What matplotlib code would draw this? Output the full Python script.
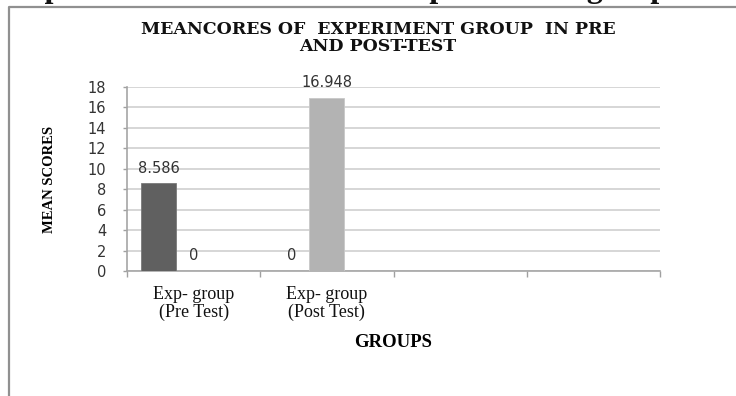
import matplotlib
matplotlib.use("Agg")
import matplotlib.pyplot as plt
from matplotlib.lines import Line2D
import numpy as np

# ---- data ----
categories = ["Exp- group\n(Pre Test)", "Exp- group\n(Post Test)", "", ""]
pre_test = [8.586, 0, None, None]
post_test = [0, 16.948, None, None]
pre_labels = ["8.586", "0"]
post_labels = ["0", "16.948"]
yticks = [0, 2, 4, 6, 8, 10, 12, 14, 16, 18]

title = "MEANCORES OF  EXPERIMENT GROUP  IN PRE\nAND POST-TEST"
top_caption = "Comparison of mean scores of experimental group"

W, H, DPI = 736, 396, 100
fig = plt.figure(figsize=(W / DPI, H / DPI), dpi=DPI)
fig.patch.set_facecolor("white")

ax = fig.add_axes([127 / W, 1 - 271 / H, (660 - 127) / W, (271 - 87) / H])

x = np.arange(len(categories))
bw = 35 / 133
dark = "#606060"
light = "#b3b3b3"

pre_vals = [v for v in pre_test if v is not None]
post_vals = [v for v in post_test if v is not None]
xp = x[:len(pre_vals)] - bw
xq = x[:len(post_vals)]
ax.bar(xp, pre_vals, width=bw, color=dark, edgecolor="#7a7a7a", linewidth=0.6, zorder=3)
ax.bar(xq, post_vals, width=bw, color=light, edgecolor="#c8c8c8", linewidth=0.6, zorder=3)

lab_font = dict(family="DejaVu Sans", fontsize=10.5, color="#333333")
for xi, v, t in zip(xp, pre_vals, pre_labels):
    ax.annotate(t, (xi, v), xytext=(0, 5.5), textcoords="offset points",
                ha="center", va="bottom", **lab_font)
for xi, v, t in zip(xq, post_vals, post_labels):
    ax.annotate(t, (xi, v), xytext=(0, 5.5), textcoords="offset points",
                ha="center", va="bottom", **lab_font)

ax.set_xlim(-0.5, len(categories) - 0.5)
ax.set_ylim(0, 18)
ax.set_yticks(yticks)
ax.set_yticklabels([str(t) for t in yticks], family="DejaVu Sans", fontsize=10.5, color="#333333")
ax.yaxis.grid(True, color="#d3d3d3", linewidth=1.3, zorder=0)
ax.set_axisbelow(True)

# category boundaries as major ticks, labels on minor ticks
ax.set_xticks(np.arange(-0.5, len(categories), 1.0))
ax.set_xticklabels([])
ax.set_xticks(x, minor=True)
ax.set_xticklabels(categories, minor=True, family="Liberation Serif", fontsize=13,
                   color="#111111", linespacing=1.05)
ax.tick_params(axis="x", which="major", direction="out", length=4, width=1, color="#a0a0a0")
ax.tick_params(axis="x", which="minor", length=0, pad=11)
ax.tick_params(axis="y", direction="out", length=3, width=1, color="#a0a0a0", pad=12)

for s in ["top", "right"]:
    ax.spines[s].set_visible(False)
for s in ["left", "bottom"]:
    ax.spines[s].set_color("#a6a6a6")
    ax.spines[s].set_linewidth(1.2)

ax.set_xlabel("GROUPS", family="Liberation Serif", fontweight="bold", fontsize=13.5, labelpad=9)
ax.set_ylabel("MEAN SCORES", family="Liberation Serif", fontweight="bold", fontsize=10.5, labelpad=23)

fig.text(378 / W, 1 - 38 / H, title, ha="center", va="center", family="DejaVu Serif",
         fontweight="bold", fontsize=12.5, linespacing=1.05, color="#111111")

# partially visible caption above the frame (cut off at the top edge, as in the reference)
fig.text(-21 / W, 1 + 3.5 / H, top_caption, ha="left", va="baseline", family="Liberation Serif",
         fontweight="bold", fontsize=23, color="#111111")

# frame
fig.add_artist(Line2D([9 / W, 9 / W, 1.0], [0.0, 1 - 7 / H, 1 - 7 / H],
                      transform=fig.transFigure, color="#909090", linewidth=1.6))

fig.savefig("out.png", dpi=DPI)
